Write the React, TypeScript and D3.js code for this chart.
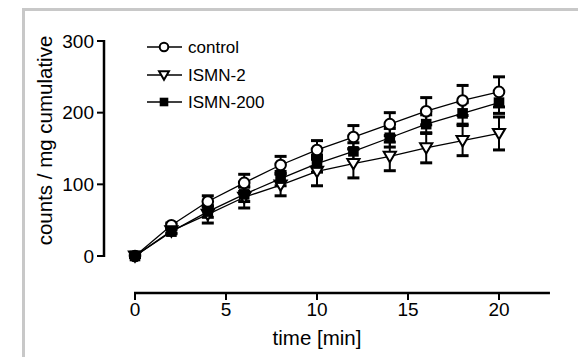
import React from 'react';
import * as d3 from 'd3';

const times = [0, 2, 4, 6, 8, 10, 12, 14, 16, 18, 20];
const control = [0, 43, 76, 102, 127, 148, 166, 184, 202, 217, 229];
const controlErr = [2, 3, 8, 12, 12, 13, 16, 16, 19, 21, 21];
const ismn2 = [0, 35, 58, 82, 99, 118, 129, 139, 151, 161, 171];
const ismn2Err = [2, 3, 12, 15, 15, 20, 20, 20, 21, 21, 23];
const ismn200 = [0, 34, 62, 86, 108, 129, 146, 165, 184, 199, 214];
const ismn200Err = [2, 3, 8, 10, 10, 12, 12, 13, 13, 15, 15];

const xTicks = [0, 5, 10, 15, 20];
const yTicks = [0, 100, 200, 300];

const seriesNames = ['control', 'ISMN-2', 'ISMN-200'];
const seriesShapes = ['circle', 'triangle', 'square'];

const font = '"Liberation Sans", Arial, sans-serif';

function Marker({ shape, x, y, size }: { shape: string; x: number; y: number; size: number }) {
  if (shape === 'circle') {
    return <circle cx={x} cy={y} r={size} fill="#fff" stroke="#000" strokeWidth={2} />;
  }
  if (shape === 'square') {
    return <rect x={x - size} y={y - size} width={size * 2} height={size * 2} fill="#000" />;
  }
  const s = size * 1.15;
  const path = `M${x - s},${y - s * 0.75} L${x + s},${y - s * 0.75} L${x},${y + s * 0.95} Z`;
  return <path d={path} fill="#fff" stroke="#000" strokeWidth={2} strokeLinejoin="miter" />;
}

export default function App() {
  const width = 578;
  const height = 357;

  const x = d3.scaleLinear().domain([0, 20]).range([135, 499]);
  const y = d3.scaleLinear().domain([0, 300]).range([256, 41]);
  const xAxisY = 293;
  const xEnd = x(22.8);

  const series = [
    { values: control, errs: controlErr },
    { values: ismn2, errs: ismn2Err },
    { values: ismn200, errs: ismn200Err },
  ];

  const line = d3
    .line<number>()
    .x((_, i) => x(times[i]))
    .y(d => y(d));

  return (
    <svg
      width={width}
      height={height}
      style={{ position: 'absolute', left: 0, top: 0, background: '#fff' }}
      fontFamily={font}
    >
      {/* frame */}
      <line x1={22} x2={width} y1={9.5} y2={9.5} stroke="#c8c8c8" strokeWidth={3} />
      <line x1={23.5} x2={23.5} y1={8} y2={height} stroke="#c8c8c8" strokeWidth={3} />

      {/* y axis */}
      <line x1={104} x2={104} y1={y(300) - 1} y2={y(0) + 1} stroke="#000" strokeWidth={2.5} />
      {yTicks.map(t => (
        <g key={t}>
          <line x1={97} x2={104} y1={y(t)} y2={y(t)} stroke="#000" strokeWidth={2} />
          <text x={94} y={y(t) + 6.5} textAnchor="end" fontSize={19}>
            {t}
          </text>
        </g>
      ))}
      <text
        transform={`translate(52, ${y(150) - 8}) rotate(-90)`}
        textAnchor="middle"
        fontSize={20.5}
      >
        counts / mg cumulative
      </text>

      {/* x axis */}
      <line x1={x(0) - 1} x2={xEnd} y1={xAxisY} y2={xAxisY} stroke="#000" strokeWidth={2.5} />
      {xTicks.map(t => (
        <g key={t}>
          <line x1={x(t)} x2={x(t)} y1={xAxisY} y2={xAxisY + 7} stroke="#000" strokeWidth={2} />
          <text x={x(t)} y={xAxisY + 23} textAnchor="middle" fontSize={19}>
            {t}
          </text>
        </g>
      ))}
      <text x={x(10)} y={xAxisY + 52} textAnchor="middle" fontSize={20.5}>
        time [min]
      </text>

      {/* error bars */}
      {series.map((s, si) =>
        s.values.map((v, i) => {
          const cx = x(times[i]);
          const top = y(v + s.errs[i]);
          const bot = y(v - s.errs[i]);
          return (
            <g key={`e${si}-${i}`} stroke="#000">
              <line x1={cx} x2={cx} y1={top} y2={bot} strokeWidth={2} />
              <line x1={cx - 6} x2={cx + 6} y1={top} y2={top} strokeWidth={3} />
              <line x1={cx - 6} x2={cx + 6} y1={bot} y2={bot} strokeWidth={3} />
            </g>
          );
        })
      )}

      {/* lines */}
      {series.map((s, si) => (
        <path key={`l${si}`} d={line(s.values) || ''} fill="none" stroke="#000" strokeWidth={1.3} />
      ))}

      {/* markers */}
      {series.map((s, si) =>
        s.values.map((v, i) => (
          <Marker key={`m${si}-${i}`} shape={seriesShapes[si]} x={x(times[i])} y={y(v)} size={5.3} />
        ))
      )}

      {/* legend */}
      {seriesNames.map((name, i) => {
        const ly = [47, 75, 102][i];
        return (
          <g key={name}>
            <line x1={147} x2={182} y1={ly} y2={ly} stroke="#000" strokeWidth={1.3} />
            <Marker shape={seriesShapes[i]} x={164} y={ly} size={4.3} />
            <text x={188} y={ly + 6} fontSize={17}>
              {name}
            </text>
          </g>
        );
      })}
    </svg>
  );
}
